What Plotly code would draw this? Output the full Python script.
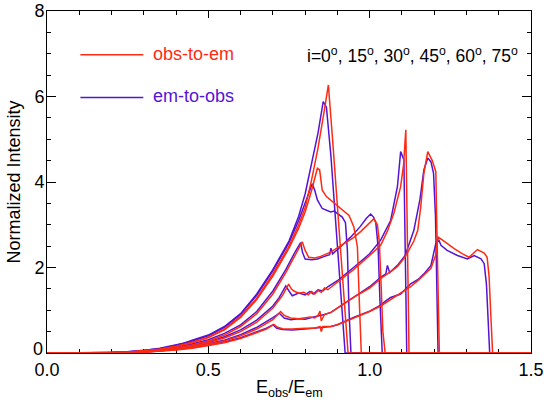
import plotly.graph_objects as go

# ---------------- data ----------------
inclinations = ["0", "15", "30", "45", "60", "75"]

# obs-to-em (red)
x_red_0 = [0.00, 0.12, 0.20, 0.25, 0.30, 0.35, 0.40, 0.45, 0.50, 0.55, 0.60, 0.65, 0.70, 0.75, 0.78, 0.80, 0.82, 0.84, 0.86, 0.872, 0.885, 0.900, 0.915, 0.926, 0.933, 1.50]
y_red_0 = [0, 0, 0.01, 0.02, 0.05, 0.09, 0.16, 0.25, 0.37, 0.56, 0.86, 1.28, 1.85, 2.50, 3.00, 3.40, 4.05, 4.80, 5.70, 6.27, 5.00, 3.50, 2.00, 0.70, 0.0, 0]

x_red_15 = [0.00, 0.12, 0.20, 0.25, 0.30, 0.35, 0.40, 0.45, 0.50, 0.55, 0.60, 0.65, 0.70, 0.75, 0.78, 0.80, 0.82, 0.838, 0.845, 0.853, 0.866, 0.879, 0.905, 0.936, 0.951, 0.962, 0.968, 0.974, 1.50]
y_red_15 = [0, 0, 0.01, 0.02, 0.05, 0.09, 0.15, 0.24, 0.36, 0.54, 0.83, 1.25, 1.80, 2.45, 2.92, 3.30, 3.80, 4.32, 4.28, 3.81, 3.66, 3.58, 3.42, 3.22, 2.95, 2.48, 1.20, 0.0, 0]

x_red_30 = [0.00, 0.15, 0.25, 0.30, 0.35, 0.40, 0.45, 0.50, 0.55, 0.60, 0.65, 0.70, 0.74, 0.77, 0.791, 0.800, 0.811, 0.830, 0.848, 0.879, 0.905, 0.931, 0.950, 0.972, 0.990, 1.013, 1.024, 1.030, 1.036, 1.041, 1.048, 1.50]
y_red_30 = [0, 0, 0.02, 0.04, 0.07, 0.12, 0.19, 0.28, 0.42, 0.62, 0.92, 1.38, 1.88, 2.30, 2.60, 2.40, 2.24, 2.22, 2.26, 2.36, 2.48, 2.60, 2.70, 2.84, 2.97, 3.14, 3.00, 2.60, 1.50, 0.50, 0.0, 0]

x_red_45 = [0.00, 0.18, 0.25, 0.30, 0.35, 0.40, 0.45, 0.50, 0.55, 0.60, 0.65, 0.70, 0.73, 0.749, 0.757, 0.765, 0.780, 0.796, 0.810, 0.820, 0.830, 0.840, 0.850, 0.860, 0.870, 0.900, 0.950, 1.000, 1.034, 1.055, 1.075, 1.096, 1.105, 1.112, 1.116, 1.122, 1.50]
y_red_45 = [0, 0, 0.01, 0.03, 0.06, 0.10, 0.16, 0.24, 0.35, 0.50, 0.72, 1.05, 1.35, 1.61, 1.50, 1.45, 1.40, 1.42, 1.36, 1.44, 1.38, 1.46, 1.42, 1.52, 1.48, 1.65, 1.95, 2.28, 2.52, 2.85, 3.27, 3.89, 4.40, 5.22, 2.50, 0.0, 0]

x_red_60 = [0.00, 0.20, 0.25, 0.30, 0.35, 0.40, 0.45, 0.50, 0.55, 0.60, 0.65, 0.70, 0.724, 0.735, 0.755, 0.780, 0.800, 0.817, 0.830, 0.840, 0.846, 0.850, 0.860, 0.880, 0.900, 0.950, 1.000, 1.034, 1.055, 1.086, 1.110, 1.137, 1.149, 1.158, 1.168, 1.180, 1.194, 1.205, 1.208, 1.212, 1.216, 1.50]
y_red_60 = [0, 0, 0.01, 0.02, 0.05, 0.08, 0.13, 0.20, 0.28, 0.40, 0.56, 0.78, 0.97, 0.88, 0.82, 0.80, 0.82, 0.84, 0.82, 0.88, 0.98, 0.75, 0.90, 0.95, 1.05, 1.30, 1.52, 1.74, 1.85, 2.02, 2.25, 2.62, 2.87, 3.40, 4.20, 4.71, 4.50, 4.24, 3.00, 1.00, 0.0, 0]

x_red_75 = [0.00, 0.20, 0.25, 0.30, 0.35, 0.40, 0.45, 0.50, 0.55, 0.60, 0.65, 0.68, 0.703, 0.715, 0.730, 0.760, 0.800, 0.830, 0.846, 0.850, 0.855, 0.880, 0.900, 0.950, 1.000, 1.034, 1.065, 1.096, 1.127, 1.150, 1.168, 1.190, 1.205, 1.212, 1.226, 1.262, 1.288, 1.308, 1.334, 1.355, 1.364, 1.370, 1.376, 1.381, 1.50]
y_red_75 = [0, 0, 0.01, 0.02, 0.04, 0.07, 0.11, 0.17, 0.24, 0.34, 0.47, 0.56, 0.67, 0.60, 0.57, 0.56, 0.58, 0.58, 0.62, 0.50, 0.62, 0.62, 0.66, 0.82, 0.97, 1.10, 1.25, 1.38, 1.55, 1.70, 1.82, 1.98, 2.30, 2.71, 2.64, 2.44, 2.32, 2.24, 2.42, 2.34, 2.24, 1.80, 0.80, 0.0, 0]

# em-to-obs (blue)
x_blue_0 = [0.00, 0.12, 0.20, 0.25, 0.30, 0.35, 0.38, 0.40, 0.42, 0.45, 0.50, 0.55, 0.60, 0.65, 0.70, 0.75, 0.78, 0.80, 0.82, 0.84, 0.856, 0.866, 0.88, 0.90, 0.915, 0.924, 1.50]
y_blue_0 = [0, 0, 0.01, 0.03, 0.06, 0.11, 0.15, 0.19, 0.22, 0.30, 0.42, 0.62, 0.92, 1.38, 1.95, 2.62, 3.20, 3.72, 4.40, 5.15, 5.88, 5.75, 4.60, 2.60, 1.00, 0.0, 0]

x_blue_15 = [0.00, 0.12, 0.20, 0.25, 0.30, 0.35, 0.40, 0.45, 0.50, 0.55, 0.60, 0.65, 0.70, 0.75, 0.78, 0.80, 0.822, 0.830, 0.838, 0.853, 0.866, 0.879, 0.890, 0.900, 0.915, 0.925, 0.931, 0.936, 0.942, 1.50]
y_blue_15 = [0, 0, 0.01, 0.03, 0.06, 0.10, 0.18, 0.28, 0.40, 0.60, 0.90, 1.35, 1.92, 2.58, 3.10, 3.50, 3.96, 3.80, 3.58, 3.38, 3.33, 3.30, 3.32, 3.26, 3.18, 3.05, 2.40, 1.00, 0.0, 0]

x_blue_30 = [0.00, 0.15, 0.25, 0.30, 0.35, 0.40, 0.45, 0.50, 0.55, 0.60, 0.65, 0.70, 0.74, 0.77, 0.786, 0.792, 0.800, 0.820, 0.838, 0.860, 0.876, 0.880, 0.885, 0.905, 0.941, 0.970, 0.990, 1.003, 1.012, 1.019, 1.026, 1.032, 1.039, 1.50]
y_blue_30 = [0, 0, 0.02, 0.05, 0.08, 0.14, 0.21, 0.31, 0.46, 0.66, 0.97, 1.45, 1.95, 2.38, 2.58, 2.35, 2.20, 2.18, 2.20, 2.26, 2.30, 2.45, 2.32, 2.45, 2.71, 2.95, 3.15, 3.25, 3.18, 3.05, 2.50, 1.20, 0.0, 0]

x_blue_45 = [0.00, 0.18, 0.25, 0.30, 0.35, 0.40, 0.45, 0.50, 0.55, 0.60, 0.65, 0.70, 0.72, 0.740, 0.750, 0.760, 0.780, 0.800, 0.815, 0.825, 0.840, 0.855, 0.870, 0.900, 0.950, 1.000, 1.034, 1.065, 1.086, 1.096, 1.106, 1.110, 1.115, 1.50]
y_blue_45 = [0, 0, 0.01, 0.03, 0.07, 0.11, 0.18, 0.26, 0.38, 0.54, 0.77, 1.10, 1.30, 1.57, 1.45, 1.34, 1.40, 1.36, 1.44, 1.38, 1.48, 1.45, 1.55, 1.69, 2.00, 2.32, 2.64, 3.10, 3.89, 4.71, 4.52, 2.00, 0.0, 0]

x_blue_60 = [0.00, 0.20, 0.25, 0.30, 0.35, 0.40, 0.45, 0.50, 0.55, 0.60, 0.65, 0.70, 0.720, 0.735, 0.755, 0.780, 0.800, 0.820, 0.840, 0.860, 0.880, 0.900, 0.950, 1.000, 1.034, 1.050, 1.055, 1.062, 1.086, 1.110, 1.137, 1.156, 1.168, 1.180, 1.190, 1.198, 1.204, 1.208, 1.212, 1.50]
y_blue_60 = [0, 0, 0.01, 0.03, 0.05, 0.09, 0.14, 0.22, 0.30, 0.43, 0.60, 0.83, 0.93, 0.82, 0.78, 0.80, 0.79, 0.83, 0.86, 0.90, 0.95, 1.05, 1.32, 1.55, 1.77, 1.85, 2.05, 1.88, 2.05, 2.28, 2.87, 3.60, 4.28, 4.56, 4.47, 4.20, 3.20, 1.00, 0.0, 0]

x_blue_75 = [0.00, 0.20, 0.25, 0.30, 0.35, 0.40, 0.45, 0.50, 0.55, 0.60, 0.65, 0.68, 0.700, 0.712, 0.730, 0.760, 0.800, 0.850, 0.880, 0.900, 0.950, 1.000, 1.034, 1.050, 1.065, 1.096, 1.127, 1.150, 1.168, 1.190, 1.205, 1.214, 1.221, 1.240, 1.272, 1.303, 1.324, 1.345, 1.355, 1.362, 1.367, 1.372, 1.50]
y_blue_75 = [0, 0, 0.01, 0.02, 0.05, 0.08, 0.12, 0.18, 0.26, 0.36, 0.50, 0.58, 0.66, 0.58, 0.55, 0.54, 0.56, 0.60, 0.62, 0.66, 0.83, 0.98, 1.12, 1.22, 1.30, 1.38, 1.62, 1.72, 1.85, 2.05, 2.56, 2.65, 2.52, 2.40, 2.28, 2.20, 2.28, 2.20, 2.09, 1.60, 0.80, 0.0, 0]

x_tick_vals = [0.0, 0.5, 1.0, 1.5]
x_tick_text = ["0.0", "0.5", "1.0", "1.5"]
y_tick_vals = [0, 2, 4, 6, 8]
y_tick_text = ["0", "2", "4", "6", "8"]

red_curves = [(x_red_0, y_red_0), (x_red_15, y_red_15), (x_red_30, y_red_30),
              (x_red_45, y_red_45), (x_red_60, y_red_60), (x_red_75, y_red_75)]
blue_curves = [(x_blue_0, y_blue_0), (x_blue_15, y_blue_15), (x_blue_30, y_blue_30),
               (x_blue_45, y_blue_45), (x_blue_60, y_blue_60), (x_blue_75, y_blue_75)]

RED = "#ff2a12"
BLUE = "#5514d4"
FONT = "Liberation Sans, Arial, Helvetica, sans-serif"
FS = 18

fig = go.Figure()
for inc, (xs, ys) in zip(inclinations, blue_curves):
    fig.add_trace(go.Scatter(x=xs, y=ys, mode="lines", name="em-to-obs i=" + inc,
                             line=dict(color=BLUE, width=1.5), showlegend=False))
for inc, (xs, ys) in zip(inclinations, red_curves):
    fig.add_trace(go.Scatter(x=xs, y=ys, mode="lines", name="obs-to-em i=" + inc,
                             line=dict(color=RED, width=1.5), showlegend=False))

axis_common = dict(showline=True, linecolor="black", linewidth=1, mirror="allticks",
                   ticks="inside", tickcolor="black", tickwidth=1, showgrid=False,
                   zeroline=False, layer="below traces", automargin=False,
                   tickfont=dict(family=FONT, size=FS, color="black"))

fig.update_xaxes(range=[0, 1.5], tickvals=x_tick_vals, ticktext=x_tick_text, ticklen=7,
                 minor=dict(dtick=0.1, tick0=0, ticks="inside", ticklen=4, tickcolor="black"),
                 **axis_common)
# the "0" label of the y axis sits a little above its tick in the reference,
# so it is written separately below
fig.update_yaxes(range=[0, 8], tickvals=y_tick_vals, ticktext=[""] + y_tick_text[1:], ticklen=9,
                 minor=dict(dtick=0.5, tick0=0, ticks="inside", ticklen=4, tickcolor="black"),
                 ticklabelstandoff=-2,
                 **axis_common)
fig.add_annotation(xref="paper", yref="y", x=-0.0045, y=y_tick_vals[0] + 0.1, xanchor="right",
                   yanchor="middle", text=y_tick_text[0], showarrow=False,
                   font=dict(family=FONT, size=FS, color="black"))

# axis titles
fig.add_annotation(xref="paper", yref="paper", x=0.5, y=-0.064, xanchor="center", yanchor="top",
                   text="E<sub>obs</sub>/E<sub>em</sub>", showarrow=False,
                   font=dict(family=FONT, size=FS, color="black"))
fig.add_annotation(xref="paper", yref="paper", x=-0.069, y=0.5, xanchor="center", yanchor="middle",
                   text="Normalized Intensity", textangle=-90, showarrow=False,
                   font=dict(family=FONT, size=FS, color="black"))

# legend drawn as sample lines + labels
fig.add_shape(type="line", xref="paper", yref="paper", x0=0.069, x1=0.199, y0=0.872, y1=0.872,
              line=dict(color=RED, width=1.5))
fig.add_shape(type="line", xref="paper", yref="paper", x0=0.069, x1=0.199, y0=0.747, y1=0.747,
              line=dict(color=BLUE, width=1.5))
fig.add_annotation(xref="paper", yref="paper", x=0.214, y=0.874, xanchor="left", yanchor="middle",
                   text="obs-to-em", showarrow=False, font=dict(family=FONT, size=FS, color=RED))
fig.add_annotation(xref="paper", yref="paper", x=0.214, y=0.752, xanchor="left", yanchor="middle",
                   text="em-to-obs", showarrow=False, font=dict(family=FONT, size=FS, color=BLUE))
fig.add_annotation(xref="paper", yref="paper", x=0.533, y=0.870, xanchor="left", yanchor="middle",
                   text="i=" + ", ".join(v + "<sup>o</sup>" for v in inclinations),
                   showarrow=False, font=dict(family=FONT, size=FS - 0.5, color="black"))

fig.update_layout(width=544, height=400, margin=dict(l=47, r=13, t=11, b=47),
                  paper_bgcolor="white", plot_bgcolor="white", showlegend=False)

# remove the default 8px page margin so the figure fills the 544x400 window exactly
fig.write_html("out.html", config={"displayModeBar": False},
               post_script="document.body.style.margin='0px';")
